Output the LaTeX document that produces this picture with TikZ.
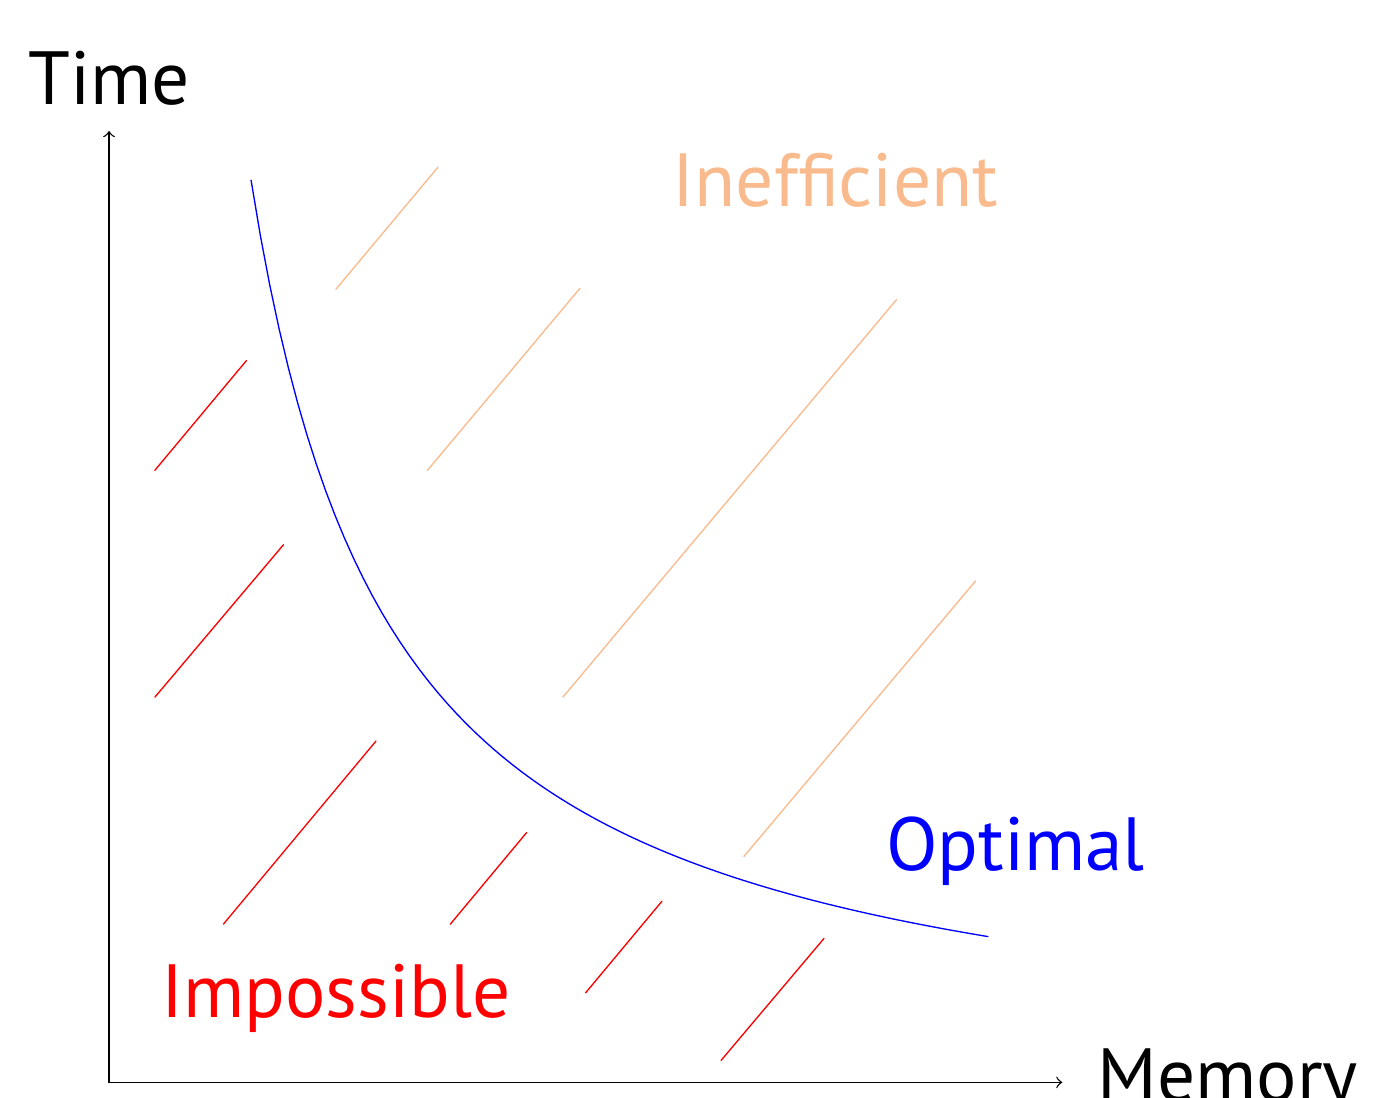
\documentclass[tikz,border=0pt]{standalone}
\usepackage{fontspec}
\setmainfont{PT Sans}
\definecolor{peach}{RGB}{249,187,141}
\begin{document}
\begin{tikzpicture}[line join=round, line cap=round, font=\fontsize{22.5}{26}\selectfont, >=to,
	bad/.style={red}, waste/.style={peach}]
				\useasboundingbox (-1.144,-0.157) rectangle (13.28,11.354);
				\coordinate (O) at (0,0);
				\coordinate (X) at (10,0);
				\coordinate (Y) at (0,9.98);
				\draw[->] (O) -- (X) node[right=7pt] (mem) {Memory};
				\draw[->] (O) -- (Y) node[above=4pt] (time) {Time};
				% trade-off curve
				\draw[blue, domain=1.49:9.22, samples=80] plot (\x, {14.1/\x});
				% hatching below the curve
				\foreach \a/\b/\c/\d in {0.48/6.42/1.44/7.57, 0.48/4.04/1.83/5.64, 1.20/1.66/2.80/3.58,
					3.58/1.66/4.38/2.62, 5.00/0.94/5.80/1.90, 6.42/0.23/7.50/1.51}
					\draw[bad] (\a,\b) -- (\c,\d);
				% hatching above the curve
				\foreach \a/\b/\c/\d in {2.38/8.32/3.45/9.60, 3.34/6.42/4.94/8.33,
					4.76/4.04/8.26/8.21, 6.66/2.37/9.09/5.26}
					\draw[waste] (\a,\b) -- (\c,\d);
				\node[bad] (imp) at (2.38,0.88) {Impossible};
				\node[waste] (ineff) at (7.62,9.46) {Inefficient};
				\node[blue] (opt) at (9.51,2.43) {Optimal};
			\end{tikzpicture}
\end{document}
